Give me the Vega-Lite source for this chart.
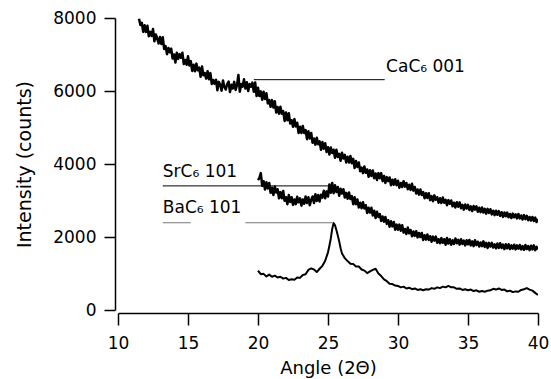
{
  "$schema": "https://vega.github.io/schema/vega-lite/v6.json",
  "width": 420,
  "height": 292,
  "autosize": "none",
  "padding": {"left": 118, "top": 18, "right": 13, "bottom": 69},
  "background": "white",
  "config": {
    "view": {"stroke": null},
    "font": "DejaVu Sans",
    "axis": {
      "domainColor": "black", "domainWidth": 1.5,
      "tickColor": "black", "tickWidth": 1.5,
      "labelColor": "black", "labelFont": "DejaVu Sans", "labelFontSize": 17,
      "titleColor": "black", "titleFont": "DejaVu Sans", "titleFontSize": 18, "titleFontWeight": "normal",
      "grid": false, "labelFlush": false, "labelOverlap": false
    }
  },
  "datasets": {
    "curves": [
      {"a":11.5,"c":7980},{"a":11.6,"c":7810},{"a":11.7,"c":7870},{"a":11.8,"c":7620},{"a":11.9,"c":7800},
      {"a":12,"c":7620},{"a":12.1,"c":7790},{"a":12.2,"c":7500},{"a":12.3,"c":7620},{"a":12.4,"c":7510},
      {"a":12.5,"c":7700},{"a":12.6,"c":7360},{"a":12.7,"c":7550},{"a":12.8,"c":7450},{"a":12.9,"c":7300},
      {"a":13,"c":7480},{"a":13.1,"c":7290},{"a":13.2,"c":7470},{"a":13.3,"c":7150},{"a":13.4,"c":7230},
      {"a":13.5,"c":7010},{"a":13.6,"c":7180},{"a":13.7,"c":7060},{"a":13.8,"c":7160},{"a":13.9,"c":6890},
      {"a":14,"c":7000},{"a":14.1,"c":6780},{"a":14.2,"c":7050},{"a":14.3,"c":6880},{"a":14.4,"c":7010},
      {"a":14.5,"c":6910},{"a":14.6,"c":7050},{"a":14.7,"c":6740},{"a":14.8,"c":6850},{"a":14.9,"c":6720},
      {"a":15,"c":6950},{"a":15.1,"c":6700},{"a":15.2,"c":6820},{"a":15.3,"c":6550},{"a":15.4,"c":6720},
      {"a":15.5,"c":6540},{"a":15.6,"c":6750},{"a":15.7,"c":6570},{"a":15.8,"c":6640},{"a":15.9,"c":6390},
      {"a":16,"c":6670},{"a":16.1,"c":6430},{"a":16.2,"c":6490},{"a":16.3,"c":6340},{"a":16.4,"c":6540},
      {"a":16.5,"c":6320},{"a":16.6,"c":6490},{"a":16.7,"c":6190},{"a":16.8,"c":6300},{"a":16.9,"c":6200},
      {"a":17,"c":6310},{"a":17.1,"c":6020},{"a":17.2,"c":6250},{"a":17.3,"c":6170},{"a":17.4,"c":6010},
      {"a":17.5,"c":6290},{"a":17.6,"c":6110},{"a":17.7,"c":6040},{"a":17.8,"c":6190},{"a":17.9,"c":6260},
      {"a":18,"c":5970},{"a":18.1,"c":6170},{"a":18.2,"c":6070},{"a":18.3,"c":6250},{"a":18.4,"c":6030},
      {"a":18.5,"c":6160},{"a":18.6,"c":6440},{"a":18.7,"c":5980},{"a":18.8,"c":6190},{"a":18.9,"c":6120},
      {"a":19,"c":6320},{"a":19.1,"c":6070},{"a":19.2,"c":6240},{"a":19.3,"c":6000},{"a":19.4,"c":6190},
      {"a":19.5,"c":6120},{"a":19.6,"c":6230},{"a":19.7,"c":5980},{"a":19.8,"c":6230},{"a":19.9,"c":5860},
      {"a":20,"c":6090,"s":3560},{"a":20.1,"c":5860,"s":3620},{"a":20.2,"c":5990,"s":3750},{"a":20.3,"c":5760,"s":3400},{"a":20.4,"c":5980,"s":3530},
      {"a":20.5,"c":5780,"s":3300},{"a":20.6,"c":5940,"s":3500},{"a":20.7,"c":5660,"s":3330},{"a":20.8,"c":5750,"s":3480},{"a":20.9,"c":5570,"s":3210},
      {"a":21,"c":5750,"s":3350},{"a":21.1,"c":5550,"s":3150},{"a":21.2,"c":5720,"s":3380},{"a":21.3,"c":5410,"s":3220},{"a":21.4,"c":5560,"s":3310},
      {"a":21.5,"c":5380,"s":3060},{"a":21.6,"c":5570,"s":3230},{"a":21.7,"c":5380,"s":3060},{"a":21.8,"c":5450,"s":3260},{"a":21.9,"c":5180,"s":2990},
      {"a":22,"c":5410,"s":3090},{"a":22.1,"c":5200,"s":2900},{"a":22.2,"c":5390,"s":3150},{"a":22.3,"c":5110,"s":2960},{"a":22.4,"c":5200,"s":3090},
      {"a":22.5,"c":5020,"s":2880},{"a":22.6,"c":5230,"s":3030},{"a":22.7,"c":5030,"s":2900},{"a":22.8,"c":5130,"s":3100},{"a":22.9,"c":4850,"s":2950},
      {"a":23,"c":5020,"s":3060},{"a":23.1,"c":4850,"s":2860},{"a":23.2,"c":5040,"s":3030},{"a":23.3,"c":4850,"s":2910},{"a":23.4,"c":4930,"s":3110},
      {"a":23.5,"c":4680,"s":2930},{"a":23.6,"c":4900,"s":3090},{"a":23.7,"c":4700,"s":2870},{"a":23.8,"c":4850,"s":3020},{"a":23.9,"c":4580,"s":3110},
      {"a":24,"c":4700,"s":2930},{"a":24.1,"c":4530,"s":3170},{"a":24.2,"c":4720,"s":2990},{"a":24.3,"c":4540,"s":3150},{"a":24.4,"c":4620,"s":2970},
      {"a":24.5,"c":4390,"s":3160},{"a":24.6,"c":4600,"s":3080},{"a":24.7,"c":4420,"s":3270},{"a":24.8,"c":4570,"s":3060},{"a":24.9,"c":4330,"s":3250},
      {"a":25,"c":4460,"s":3110},{"a":25.1,"c":4260,"s":3440},{"a":25.2,"c":4450,"s":3210},{"a":25.3,"c":4300,"s":3480},{"a":25.4,"c":4390,"s":3200},
      {"a":25.5,"c":4170,"s":3420},{"a":25.6,"c":4390,"s":3230},{"a":25.7,"c":4190,"s":3370},{"a":25.8,"c":4280,"s":3130},{"a":25.9,"c":4090,"s":3320},
      {"a":26,"c":4310,"s":3190},{"a":26.1,"c":4150,"s":3310},{"a":26.2,"c":4250,"s":3080},{"a":26.3,"c":4040,"s":3210},{"a":26.4,"c":4200,"s":3050},
      {"a":26.5,"c":4040,"s":3220},{"a":26.6,"c":4220,"s":3040},{"a":26.7,"c":4020,"s":3120},{"a":26.8,"c":4140,"s":2900},{"a":26.9,"c":3890,"s":3090},
      {"a":27,"c":4080,"s":2900},{"a":27.1,"c":3920,"s":3030},{"a":27.2,"c":4040,"s":2810},{"a":27.3,"c":3800,"s":2940},{"a":27.4,"c":3900,"s":2790},
      {"a":27.5,"c":3750,"s":2950},{"a":27.6,"c":3930,"s":2780},{"a":27.7,"c":3760,"s":2870},{"a":27.8,"c":3850,"s":2660},{"a":27.9,"c":3650,"s":2800},
      {"a":28,"c":3830,"s":2670},{"a":28.1,"c":3670,"s":2800},{"a":28.2,"c":3820,"s":2590},{"a":28.3,"c":3610,"s":2720},{"a":28.4,"c":3740,"s":2520},
      {"a":28.5,"c":3560,"s":2690},{"a":28.6,"c":3750,"s":2550},{"a":28.7,"c":3610,"s":2630},{"a":28.8,"c":3750,"s":2440},{"a":28.9,"c":3530,"s":2560},
      {"a":29,"c":3670,"s":2420},{"a":29.1,"c":3480,"s":2550},{"a":29.2,"c":3640,"s":2360},{"a":29.3,"c":3530,"s":2460},{"a":29.4,"c":3630,"s":2280},
      {"a":29.5,"c":3420,"s":2430},{"a":29.6,"c":3570,"s":2290},{"a":29.7,"c":3430,"s":2410},{"a":29.8,"c":3580,"s":2200},{"a":29.9,"c":3420,"s":2340},
      {"a":30,"c":3540,"s":2200},{"a":30.1,"c":3350,"s":2340},{"a":30.2,"c":3480,"s":2170},{"a":30.3,"c":3370,"s":2320},{"a":30.4,"c":3530,"s":2120},
      {"a":30.5,"c":3380,"s":2220},{"a":30.6,"c":3480,"s":2080},{"a":30.7,"c":3310,"s":2260},{"a":30.8,"c":3430,"s":2100},{"a":30.9,"c":3290,"s":2190},
      {"a":31,"c":3460,"s":2020},{"a":31.1,"c":3270,"s":2150},{"a":31.2,"c":3370,"s":2030},{"a":31.3,"c":3190,"s":2160},{"a":31.4,"c":3300,"s":1990},
      {"a":31.5,"c":3160,"s":2110},{"a":31.6,"c":3300,"s":2000},{"a":31.7,"c":3150,"s":2110},{"a":31.8,"c":3230,"s":1920},{"a":31.9,"c":3060,"s":2050},
      {"a":32,"c":3200,"s":1930},{"a":32.1,"c":3070,"s":2070},{"a":32.2,"c":3200,"s":1920},{"a":32.3,"c":3010,"s":2020},{"a":32.4,"c":3120,"s":1870},
      {"a":32.5,"c":2980,"s":2010},{"a":32.6,"c":3140,"s":1900},{"a":32.7,"c":3020,"s":2010},{"a":32.8,"c":3090,"s":1840},{"a":32.9,"c":2940,"s":1940},
      {"a":33,"c":3060,"s":1830},{"a":33.1,"c":2930,"s":1970},{"a":33.2,"c":3080,"s":1840},{"a":33.3,"c":2940,"s":1940},{"a":33.4,"c":3020,"s":1790},
      {"a":33.5,"c":2870,"s":1970},{"a":33.6,"c":3010,"s":1820},{"a":33.7,"c":2910,"s":1940},{"a":33.8,"c":3000,"s":1790},{"a":33.9,"c":2840,"s":1910},
      {"a":34,"c":2940,"s":1810},{"a":34.1,"c":2810,"s":1960},{"a":34.2,"c":2950,"s":1830},{"a":34.3,"c":2830,"s":1920},{"a":34.4,"c":2950,"s":1790},
      {"a":34.5,"c":2790,"s":1940},{"a":34.6,"c":2880,"s":1810},{"a":34.7,"c":2750,"s":1900},{"a":34.8,"c":2890,"s":1770},{"a":34.9,"c":2780,"s":1910},
      {"a":35,"c":2880,"s":1800},{"a":35.1,"c":2740,"s":1920},{"a":35.2,"c":2840,"s":1770},{"a":35.3,"c":2710,"s":1880},{"a":35.4,"c":2850,"s":1750},
      {"a":35.5,"c":2750,"s":1910},{"a":35.6,"c":2840,"s":1780},{"a":35.7,"c":2690,"s":1870},{"a":35.8,"c":2800,"s":1740},{"a":35.9,"c":2680,"s":1850},
      {"a":36,"c":2810,"s":1750},{"a":36.1,"c":2670,"s":1880},{"a":36.2,"c":2770,"s":1730},{"a":36.3,"c":2640,"s":1840},{"a":36.4,"c":2770,"s":1700},
      {"a":36.5,"c":2660,"s":1840},{"a":36.6,"c":2760,"s":1740},{"a":36.7,"c":2620,"s":1840},{"a":36.8,"c":2720,"s":1710},{"a":36.9,"c":2600,"s":1800},
      {"a":37,"c":2720,"s":1690},{"a":37.1,"c":2610,"s":1820},{"a":37.2,"c":2710,"s":1700},{"a":37.3,"c":2580,"s":1830},{"a":37.4,"c":2680,"s":1700},
      {"a":37.5,"c":2550,"s":1790},{"a":37.6,"c":2670,"s":1670},{"a":37.7,"c":2570,"s":1800},{"a":37.8,"c":2670,"s":1690},{"a":37.9,"c":2540,"s":1800},
      {"a":38,"c":2630,"s":1670},{"a":38.1,"c":2520,"s":1770},{"a":38.2,"c":2640,"s":1680},{"a":38.3,"c":2540,"s":1790},{"a":38.4,"c":2620,"s":1660},
      {"a":38.5,"c":2510,"s":1770},{"a":38.6,"c":2630,"s":1680},{"a":38.7,"c":2510,"s":1780},{"a":38.8,"c":2590,"s":1660},{"a":38.9,"c":2480,"s":1750},
      {"a":39,"c":2600,"s":1650},{"a":39.1,"c":2490,"s":1780},{"a":39.2,"c":2580,"s":1670},{"a":39.3,"c":2460,"s":1750},{"a":39.4,"c":2550,"s":1640},
      {"a":39.5,"c":2450,"s":1760},{"a":39.6,"c":2550,"s":1660},{"a":39.7,"c":2440,"s":1770},{"a":39.8,"c":2530,"s":1640},{"a":39.9,"c":2410,"s":1730},
      {"a":40,"c":2490,"s":1660},
      {"a":20,"b":1080},{"a":20.2,"b":980},{"a":20.4,"b":990},{"a":20.6,"b":920},{"a":20.8,"b":970},
      {"a":21,"b":910},{"a":21.2,"b":940},{"a":21.4,"b":890},{"a":21.6,"b":910},{"a":21.8,"b":860},
      {"a":22,"b":880},{"a":22.2,"b":820},{"a":22.4,"b":840},{"a":22.6,"b":830},{"a":22.8,"b":890},
      {"a":23,"b":880},{"a":23.2,"b":960},{"a":23.4,"b":980},{"a":23.6,"b":1100},{"a":23.8,"b":1140},
      {"a":24,"b":1110},{"a":24.2,"b":1040},{"a":24.4,"b":1130},{"a":24.6,"b":1210},{"a":24.8,"b":1350},
      {"a":25,"b":1580},{"a":25.1,"b":1760},{"a":25.2,"b":1960},{"a":25.3,"b":2220},{"a":25.4,"b":2380},
      {"a":25.5,"b":2320},{"a":25.6,"b":2190},{"a":25.7,"b":2040},{"a":25.8,"b":1880},{"a":25.9,"b":1690},
      {"a":26,"b":1550},{"a":26.2,"b":1420},{"a":26.4,"b":1340},{"a":26.6,"b":1270},{"a":26.8,"b":1260},
      {"a":27,"b":1190},{"a":27.2,"b":1190},{"a":27.4,"b":1110},{"a":27.6,"b":1080},{"a":27.8,"b":1010},
      {"a":28,"b":1060},{"a":28.2,"b":1100},{"a":28.4,"b":1130},{"a":28.6,"b":1000},{"a":28.8,"b":930},
      {"a":29,"b":840},{"a":29.2,"b":790},{"a":29.4,"b":720},{"a":29.6,"b":710},{"a":29.8,"b":670},
      {"a":30,"b":660},{"a":30.2,"b":620},{"a":30.4,"b":640},{"a":30.6,"b":590},{"a":30.8,"b":610},
      {"a":31,"b":570},{"a":31.2,"b":590},{"a":31.4,"b":550},{"a":31.6,"b":570},{"a":31.8,"b":540},
      {"a":32,"b":570},{"a":32.2,"b":560},{"a":32.4,"b":600},{"a":32.6,"b":580},{"a":32.8,"b":620},
      {"a":33,"b":600},{"a":33.2,"b":640},{"a":33.4,"b":620},{"a":33.6,"b":660},{"a":33.8,"b":620},
      {"a":34,"b":620},{"a":34.2,"b":580},{"a":34.4,"b":590},{"a":34.6,"b":550},{"a":34.8,"b":570},
      {"a":35,"b":540},{"a":35.2,"b":560},{"a":35.4,"b":520},{"a":35.6,"b":540},{"a":35.8,"b":500},
      {"a":36,"b":520},{"a":36.2,"b":500},{"a":36.4,"b":530},{"a":36.6,"b":540},{"a":36.8,"b":580},
      {"a":37,"b":560},{"a":37.2,"b":590},{"a":37.4,"b":550},{"a":37.6,"b":560},{"a":37.8,"b":510},
      {"a":38,"b":530},{"a":38.2,"b":490},{"a":38.4,"b":510},{"a":38.6,"b":500},{"a":38.8,"b":550},
      {"a":39,"b":570},{"a":39.2,"b":600},{"a":39.4,"b":560},{"a":39.6,"b":530},{"a":39.8,"b":470},
      {"a":40,"b":410}
    ],
    "rules": [
      {"label": "CaC6", "a": 19.7, "a2": 29.05, "v": 6310},
      {"label": "SrC6", "a": 13.2, "a2": 25.2, "v": 3400},
      {"label": "BaC6", "a": 13.2, "a2": 15.2, "v": 2390},
      {"label": "BaC6", "a": 19.1, "a2": 25.35, "v": 2390}
    ],
    "labels": [
      {"t": "CaC₆ 001", "a": 29.15, "v": 6520},
      {"t": "SrC₆ 101", "a": 13.2, "v": 3650},
      {"t": "BaC₆ 101", "a": 13.2, "v": 2650}
    ]
  },
  "encoding": {
    "x": {
      "field": "a", "type": "quantitative",
      "scale": {"domain": [10, 40], "nice": false, "zero": false},
      "axis": {"title": "Angle (2Θ)", "values": [10, 15, 20, 25, 30, 35, 40], "format": "d", "offset": 3, "tickSize": 12, "labelPadding": 10, "titlePadding": 8}
    },
    "y": {
      "field": "v", "type": "quantitative",
      "scale": {"domain": [0, 8000], "nice": false},
      "axis": {"title": "Intensity (counts)", "values": [0, 2000, 4000, 6000, 8000], "format": "d", "offset": 3, "tickSize": 11, "labelPadding": 8, "titlePadding": 18, "titleFontSize": 19}
    }
  },
  "layer": [
    {
      "data": {"name": "curves"},
      "transform": [
        {"fold": ["c", "s"], "as": ["series", "v"]},
        {"filter": "isValid(datum.v)"}
      ],
      "mark": {"type": "line", "color": "black", "strokeWidth": 2.5, "strokeJoin": "round", "clip": true},
      "encoding": {"detail": {"field": "series", "type": "nominal"}}
    },
    {
      "data": {"name": "curves"},
      "transform": [
        {"fold": ["b"], "as": ["series", "v"]},
        {"filter": "isValid(datum.v)"}
      ],
      "mark": {"type": "line", "color": "black", "strokeWidth": 2, "strokeJoin": "round", "clip": true},
      "encoding": {"detail": {"field": "series", "type": "nominal"}}
    },
    {
      "data": {"name": "rules"},
      "mark": {"type": "rule", "strokeWidth": 1},
      "encoding": {
        "x2": {"field": "a2"},
        "color": {"field": "label", "type": "nominal", "scale": {"domain": ["CaC6", "SrC6", "BaC6"], "range": ["#000000", "#000000", "#777777"]}, "legend": null}
      }
    },
    {
      "data": {"name": "labels"},
      "mark": {"type": "text", "align": "left", "baseline": "alphabetic", "font": "DejaVu Sans", "fontSize": 17, "color": "black"},
      "encoding": {"text": {"field": "t", "type": "nominal"}}
    }
  ]
}
